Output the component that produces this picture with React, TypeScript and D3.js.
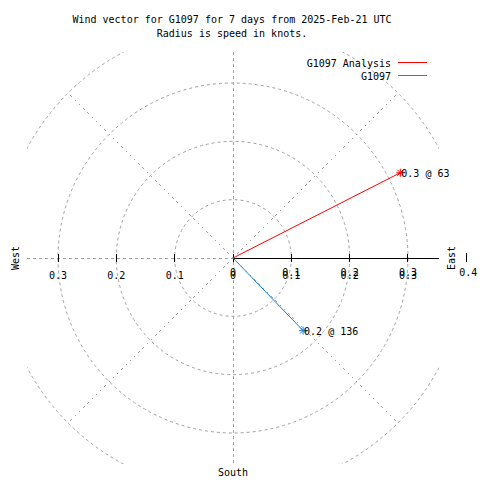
import React from "react";
import * as d3 from "d3";

const titleLines = [
  "Wind vector for G1097 for 7 days from 2025-Feb-21 UTC",
  "Radius is speed in knots.",
];
const seriesNames = ["G1097 Analysis", "G1097"];
const speeds = [0.322, 0.173];
const directions = [63, 136];
const seriesColors = ["#ff0000", "#1a7ee6"];
const gridRadii = [0.1, 0.2, 0.3, 0.4];
const tickValues = [0.1, 0.2, 0.3];
const diagonalAngles = [45, 135, 225, 315];
const maxRadius = 0.4;
const boxExtent = 0.353;

const W = 480;
const H = 480;
const cx = 233;
const cy = 258;
const FONT = "'DejaVu Sans Mono', monospace";
const GRID = "#a0a0a0";

export default function App() {
  const r = d3.scaleLinear().domain([0, maxRadius]).range([0, 233.3]);
  const xs = d3.scaleLinear().domain([-maxRadius, maxRadius]).range([cx - r(maxRadius), cx + r(maxRadius)]);
  const box = r(boxExtent);
  const polar = (speed: number, deg: number) => {
    const a = (deg * Math.PI) / 180;
    return [cx + r(speed) * Math.sin(a), cy - r(speed) * Math.cos(a)];
  };
  const line = d3.line();

  return (
    <svg
      width={W}
      height={H}
      style={{ position: "absolute", left: 0, top: 0, background: "#fff" }}
      fontFamily={FONT}
      fontSize={10}
    >
      <rect width={W} height={H} fill="#fff" />
      <defs>
        <clipPath id="box">
          <rect x={cx - box} y={cy - box} width={box * 2} height={box * 2} />
        </clipPath>
      </defs>
      {/* grid circles */}
      <g clipPath="url(#box)" fill="none" stroke={GRID} strokeDasharray="3,3">
        {gridRadii.map((g) => (
          <circle key={g} cx={cx} cy={cy} r={r(g)} />
        ))}
      </g>
      {/* diagonals */}
      <g stroke={GRID} strokeDasharray="2,4" shapeRendering="crispEdges">
        {diagonalAngles.map((d) => {
          const [x, y] = polar(maxRadius, d);
          return <line key={d} x1={cx} y1={cy} x2={x} y2={y} />;
        })}
      </g>
      <g stroke={GRID} strokeDasharray="3,3" shapeRendering="crispEdges">
        <line x1={cx} y1={cy - box} x2={cx} y2={cy + box} />
        <line x1={cx - box} y1={cy} x2={cx} y2={cy} />
      </g>
      {/* east axis */}
      <line x1={cx} y1={cy} x2={cx + box} y2={cy} stroke="#000" shapeRendering="crispEdges" />
      <g stroke="#000" shapeRendering="crispEdges">
        {[0, ...tickValues, ...tickValues.map((t) => -t)].map((t) => (
          <line key={t} x1={xs(t)} x2={xs(t)} y1={cy - 4} y2={cy + 4} />
        ))}
        <line x1={xs(maxRadius)} x2={xs(maxRadius)} y1={cy - 5} y2={cy + 4} />
      </g>
      {/* tick labels */}
      <g textAnchor="middle" fill="#000">
        {tickValues.map((t) => (
          <text key={"w" + t} x={xs(-t)} y={cy + 21}>
            {String(t)}
          </text>
        ))}
        {[0, ...tickValues].map((t) => (
          <g key={"e" + t}>
            <text x={xs(t)} y={cy + 21}>
              {String(t)}
            </text>
            <text x={xs(t)} y={cy + 18}>
              {String(t)}
            </text>
          </g>
        ))}
        <text x={xs(maxRadius) + 2} y={cy + 18}>
          {String(maxRadius)}
        </text>
      </g>
      {/* compass labels */}
      <text x={15} y={cy} transform={`rotate(-90,15,${cy})`} textAnchor="middle" dy="0.35em">
        West
      </text>
      <text x={451} y={cy} transform={`rotate(-90,451,${cy})`} textAnchor="middle" dy="0.35em">
        East
      </text>
      <text x={cx} y={476} textAnchor="middle">
        South
      </text>
      {/* title */}
      {titleLines.map((t, i) => (
        <text key={i} x={232} y={23 + i * 14} textAnchor="middle">
          {t}
        </text>
      ))}
      {/* vectors */}
      {speeds.map((s, i) => {
        const [x, y] = polar(s, directions[i]);
        const c = seriesColors[i];
        return (
          <g key={i}>
            <path d={line([[cx, cy], [x, y]]) || ""} stroke={c} fill="none" />
            <g stroke={c}>
              <line x1={x - 4} x2={x + 4} y1={y} y2={y} />
              <line x1={x} x2={x} y1={y - 4} y2={y + 4} />
              <line x1={x - 3} x2={x + 3} y1={y - 3} y2={y + 3} />
              <line x1={x - 3} x2={x + 3} y1={y + 3} y2={y - 3} />
            </g>
            <text x={x + 1} y={y + 4}>
              {`${s.toFixed(1)} @ ${directions[i]}`}
            </text>
          </g>
        );
      })}
      {/* legend */}
      {seriesNames.map((n, i) => (
        <g key={n}>
          <text x={391} y={67 + i * 13} textAnchor="end">
            {n}
          </text>
          <line
            x1={398}
            x2={427}
            y1={62.5 + i * 13}
            y2={62.5 + i * 13}
            stroke={seriesColors[i]}
            shapeRendering="crispEdges"
          />
        </g>
      ))}
    </svg>
  );
}
